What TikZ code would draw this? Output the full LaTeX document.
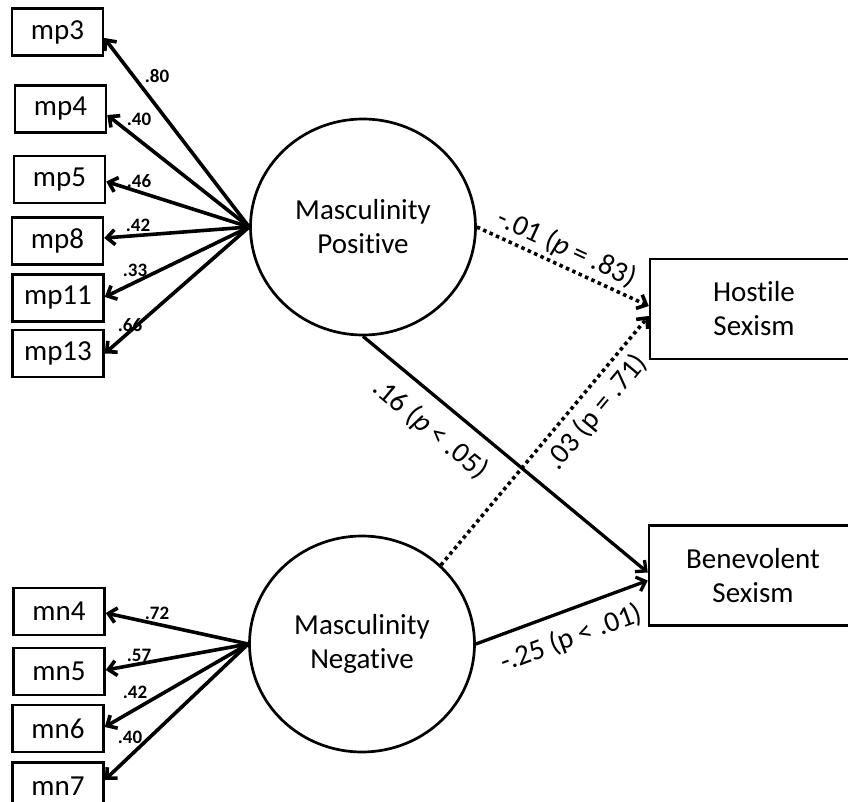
\documentclass[tikz,border=0pt]{standalone}
\usepackage{fontspec}
\setmainfont{Carlito}[Ligatures={NoCommon}]
\usetikzlibrary{arrows.meta,shapes.geometric,calc}
\begin{document}
\begin{tikzpicture}[x=1pt,y=-1pt,
  obs/.style={draw, line width=2.5pt, minimum width=91pt, minimum height=47pt,
    inner sep=0pt, font=\fontsize{29}{34}\selectfont},
  outc/.style={draw, line width=2.5pt, minimum width=208pt, minimum height=100pt,
    inner sep=0pt, align=center, font=\fontsize{29}{34}\selectfont},
  lat/.style={ellipse, draw, line width=2.7pt, minimum width=225pt, minimum height=216pt,
    inner sep=0pt, align=center, font=\fontsize{29}{34}\selectfont},
  load/.style={-{Straight Barb[length=8pt,width=15pt]}, line width=3.6pt},
  sig/.style={-{Straight Barb[length=8pt,width=15pt]}, line width=3.3pt},
  nsig/.style={sig, line width=3.6pt, dash pattern=on 3.5pt off 3.5pt},
  wlbl/.style={font=\bfseries\fontsize{19}{22}\selectfont, inner sep=0pt},
  plbl/.style={sloped, inner sep=0pt, font=\fontsize{29}{34}\selectfont},
]
\useasboundingbox (0,0) rectangle (848,802);
\clip (0,0) rectangle (848,802);

% latent factors
\node[lat] (mpos) at (363,227) {Masculinity\\Positive};
\node[lat] (mneg) at (362,644) {Masculinity\\Negative};

% outcomes
\node[outc] (hs) at (754,309) {Hostile\\Sexism};
\node[outc] (bs) at (753,575.5) {Benevolent\\Sexism};

% indicators of the positive factor
\node[obs] (mp3)  at (57.5,32)   {mp3};
\node[obs] (mp4)  at (60.5,109)  {mp4};
\node[obs] (mp5)  at (59.5,179.5){mp5};
\node[obs] (mp8)  at (57.5,241)  {mp8};
\node[obs] (mp11) at (58,298)    {mp11};
\node[obs] (mp13) at (58,353.5)  {mp13};

% indicators of the negative factor
\node[obs] (mn4) at (59,611.5) {mn4};
\node[obs] (mn5) at (59,671.5) {mn5};
\node[obs] (mn6) at (58,728.5) {mn6};
\node[obs] (mn7) at (58,786)   {mn7};

% loadings
\draw[load] (mpos.west) -- ($(mp3.east)+(0,6)$);
\draw[load] (mpos.west) -- ($(mp4.east)+(0,6)$);
\draw[load] (mpos.west) -- ($(mp5.east)+(0,2)$);
\draw[load] (mpos.west) -- ($(mp8.east)+(0,-3)$);
\draw[load] (mpos.west) -- ($(mp11.east)+(0,-1)$);
\draw[load] (mpos.west) -- (mp13.east);

\draw[load] (mneg.west) -- ($(mn4.east)+(0,1.5)$);
\draw[load] (mneg.west) -- ($(mn5.east)+(0,-1.5)$);
\draw[load] (mneg.west) -- ($(mn6.east)+(0,-1.5)$);
\draw[load] (mneg.west) -- ($(mn7.east)+(0,-6)$);

\node[wlbl] (w3)  at (157,76)  {.80};
\node[wlbl] (w4)  at (139,119) {.40};
\node[wlbl] (w5)  at (139,181) {.46};
\node[wlbl] (w8)  at (138,225) {.42};
\node[wlbl] (w11) at (135,270) {.33};
\node[wlbl] (w13) at (130,325) {.66};

\node[wlbl] (v4) at (157,613) {.72};
\node[wlbl] (v5) at (139,655) {.57};
\node[wlbl] (v6) at (135,692) {.42};
\node[wlbl] (v7) at (130,737) {.40};

% structural paths
\draw[nsig] (mpos.east) -- node[plbl, above=3.5pt, pos=.48] (e1) {-.01 (\textit{p} = .83)} ($(hs.west)+(0,-3)$);
\draw[nsig] (mneg.45) -- node[plbl, below=7pt, pos=.67] (e2) {.03 (p = .71)} ($(hs.west)+(0,7)$);
\draw[sig] (mpos.south) -- node[plbl, below=14pt, pos=.30] (e3) {.16 (\textit{p} < .05)} ($(bs.west)+(0,-3)$);
\draw[sig] (mneg.east) -- node[plbl, below=13pt, pos=.50] (e4) {-.25 (p < .01)} ($(bs.west)+(0,5)$);
\end{tikzpicture}
\end{document}
